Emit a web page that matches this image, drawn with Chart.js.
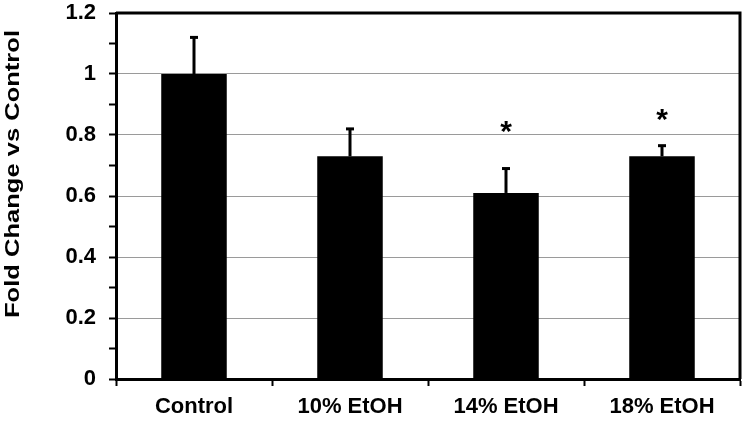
<!DOCTYPE html>
<html>
<head>
<meta charset="utf-8">
<script src="https://cdn.jsdelivr.net/npm/chart.js@4/dist/chart.umd.min.js"></script>
<style>
  html, body { margin: 0; padding: 0; background: #fff; }
  #wrap { width: 750px; height: 422px; }
</style>
</head>
<body>
<div id="wrap"><canvas id="c" width="750" height="422"></canvas></div>
<script>
const categories = ['Control', '10% EtOH', '14% EtOH', '18% EtOH'];
const foldChange = [1.0, 0.73, 0.61, 0.73];
const errorUp = [0.12, 0.09, 0.08, 0.035];
const asteriskLevel = [null, null, 0.82, 0.86];
const yTitle = 'Fold Change vs Control';

const FONT = "'Liberation Sans', Arial, sans-serif";

const extrasPlugin = {
  id: 'extras',
  afterDatasetsDraw(chart) {
    const ctx = chart.ctx;
    const meta = chart.getDatasetMeta(0);
    const y = chart.scales.y;
    ctx.save();
    ctx.strokeStyle = '#000';
    ctx.fillStyle = '#000';
    meta.data.forEach((bar, i) => {
      const x = bar.x;
      const yBar = y.getPixelForValue(foldChange[i]);
      const yTop = y.getPixelForValue(foldChange[i] + errorUp[i]);
      ctx.lineWidth = 3;
      ctx.beginPath();
      ctx.moveTo(x, yBar);
      ctx.lineTo(x, yTop);
      ctx.stroke();
      ctx.fillRect(x - 4, yTop - 1.5, 8, 3);
      if (asteriskLevel[i] != null) {
        ctx.font = 'bold 30px ' + FONT;
        ctx.textAlign = 'center';
        ctx.textBaseline = 'middle';
        ctx.fillText('*', x, y.getPixelForValue(asteriskLevel[i]) + 4);
      }
    });
    ctx.restore();
  },
  afterDraw(chart) {
    const ctx = chart.ctx;
    const a = chart.chartArea;
    ctx.save();
    ctx.strokeStyle = '#000';
    ctx.lineWidth = 3;
    ctx.beginPath();
    ctx.moveTo(a.left, a.top);
    ctx.lineTo(a.right, a.top);
    ctx.lineTo(a.right, a.bottom);
    ctx.stroke();
    // y axis title
    ctx.fillStyle = '#000';
    ctx.font = 'bold 20px ' + FONT;
    ctx.textAlign = 'center';
    ctx.textBaseline = 'middle';
    const w = ctx.measureText(yTitle).width;
    ctx.translate(13, 174);
    ctx.rotate(-Math.PI / 2);
    ctx.scale(288 / w, 1);
    ctx.fillText(yTitle, 0, 0);
    ctx.restore();
  }
};

new Chart(document.getElementById('c'), {
  type: 'bar',
  data: {
    labels: categories,
    datasets: [{
      data: foldChange,
      backgroundColor: '#000',
      borderWidth: 0,
      barPercentage: 0.42,
      categoryPercentage: 1.0
    }]
  },
  options: {
    responsive: false,
    animation: false,
    layout: { padding: { top: 13, right: 10, left: 0, bottom: 0 } },
    plugins: { legend: { display: false }, tooltip: { enabled: false } },
    scales: {
      x: {
        afterFit(s) { s.height = 43; s.paddingLeft = 0; s.paddingRight = 0; },
        grid: {
          offset: true,
          drawOnChartArea: false,
          tickLength: 7,
          tickColor: '#000',
          tickWidth: 2
        },
        border: { display: true, color: '#000', width: 3 },
        ticks: {
          color: '#000',
          font: { family: FONT, size: 22, weight: 'bold' },
          padding: 8
        }
      },
      y: {
        min: 0,
        max: 1.2,
        afterFit(s) { s.width = 116; s.paddingTop = 0; s.paddingBottom = 0; },
        afterBuildTicks(s) {
          const t = [];
          for (let k = 0; k <= 12; k++) t.push({ value: k / 10 });
          s.ticks = t;
        },
        grid: {
          color: (c) => (c.tick && Math.round(c.tick.value * 10) % 2 === 0) ? '#9a9a9a' : 'rgba(0,0,0,0)',
          lineWidth: 1,
          tickLength: 7,
          tickColor: '#000',
          tickWidth: 2
        },
        border: { display: true, color: '#000', width: 3 },
        ticks: {
          color: '#000',
          font: { family: FONT, size: 22, weight: 'bold' },
          padding: 13,
          autoSkip: false,
          callback: (v) => (Math.round(v * 10) % 2 === 0) ? String(+v.toFixed(1)) : ''
        }
      }
    }
  },
  plugins: [extrasPlugin]
});
</script>
</body>
</html>
